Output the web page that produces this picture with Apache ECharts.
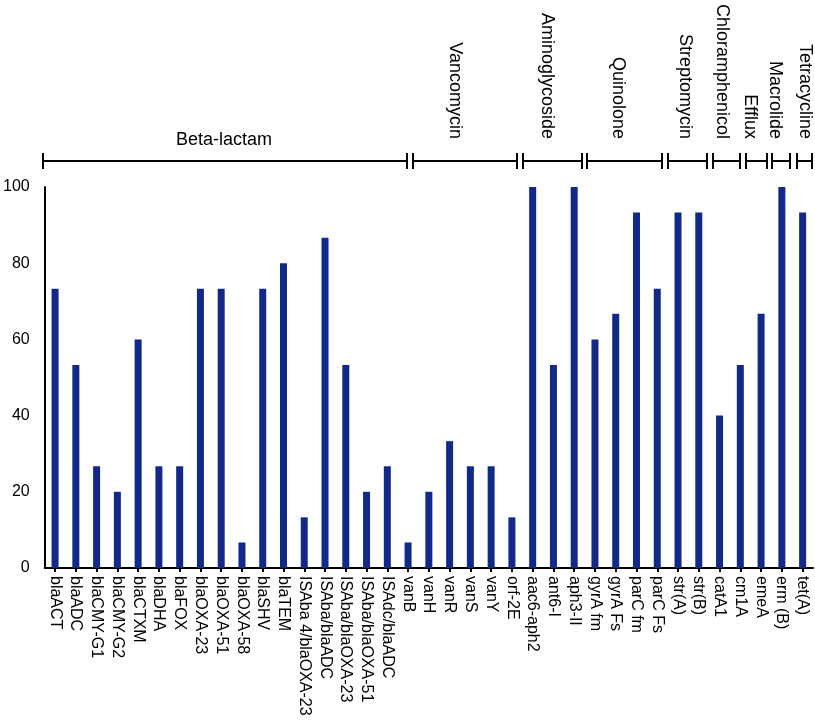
<!DOCTYPE html>
<html>
<head>
<meta charset="utf-8">
<script src="https://cdn.jsdelivr.net/npm/echarts@6/dist/echarts.min.js"></script>
<style>html,body{margin:0;padding:0;background:#fff}#c{width:815px;height:720px}</style>
</head>
<body>
<div id="c"></div>
<script>
const categories = ["blaACT","blaADC","blaCMY-G1","blaCMY-G2","blaCTXM","blaDHA","blaFOX","blaOXA-23","blaOXA-51","blaOXA-58","blaSHV","blaTEM","ISAba 4/blaOXA-23","ISAba/blaADC","ISAba/blaOXA-23","ISAba/blaOXA-51","ISAdc/blaADC","vanB","vanH","vanR","vanS","vanY","orf-2E","aac6-aph2","ant6-I","aph3-II","gyrA fm","gyrA Fs","parC fm","parC Fs","str(A)","str(B)","catA1","cm1A","emeA","erm (B)","tet(A)"];
const values = [73.3,53.3,26.7,20,60,26.7,26.7,73.3,73.3,6.7,73.3,80,13.3,86.7,53.3,20,26.7,6.7,20,33.3,26.7,26.7,13.3,100,53.3,100,60,66.7,93.3,73.3,93.3,93.3,40,53.3,66.7,100,93.3];
const yTicks = [0,20,40,60,80,100];
const groupNames = ["Beta-lactam","Vancomycin","Aminoglycoside","Quinolone","Streptomycin","Chloramphenicol","Efflux","Macrolide","Tetracycline"];

// layout of the group brackets (pixels)
const bracketY = 161, tickH = 8;
const segs = [[43,407],[413,517],[523,582],[587,662],[668,707],[713,740],[746,767],[772,790],[797,812]];
const labelX = [224,455,547,618,685,722,750,775,805];
const FONT = "'Liberation Sans', Arial, sans-serif";

const graphic = [];
segs.forEach(s => {
  graphic.push({type:'line', shape:{x1:s[0],y1:bracketY,x2:s[1],y2:bracketY}, style:{stroke:'#000',lineWidth:2}});
  graphic.push({type:'line', shape:{x1:s[0],y1:bracketY-tickH,x2:s[0],y2:bracketY+tickH}, style:{stroke:'#000',lineWidth:2}});
  graphic.push({type:'line', shape:{x1:s[1],y1:bracketY-tickH,x2:s[1],y2:bracketY+tickH}, style:{stroke:'#000',lineWidth:2}});
});
groupNames.forEach((n,i) => {
  if (i === 0) {
    graphic.push({type:'text', x:labelX[i], y:140, style:{text:n, font:'18px '+FONT, fill:'#000', align:'center', verticalAlign:'middle'}});
  } else {
    graphic.push({type:'text', x:labelX[i], y:139, rotation:-Math.PI/2, style:{text:n, font:'18px '+FONT, fill:'#000', align:'right', verticalAlign:'middle'}});
  }
});

const chart = echarts.init(document.getElementById('c'), null, {renderer:'canvas'});
chart.setOption({
  animation:false,
  backgroundColor:'#fff',
  grid:{left:41, right:2, top:187, bottom:152, containLabel:false},
  xAxis:{
    type:'category', data:categories,
    axisLine:{lineStyle:{color:'#000', width:2}},
    axisTick:{show:true, alignWithLabel:true, length:4, lineStyle:{color:'#000', width:2}},
    axisLabel:{rotate:-90, interval:0, margin:8, color:'#000', fontSize:16, fontFamily:FONT}
  },
  yAxis:{
    type:'value', min:yTicks[0], max:yTicks[yTicks.length-1], interval:20,
    splitLine:{show:false},
    axisLine:{show:true, lineStyle:{color:'#000', width:2}},
    axisTick:{show:false},
    axisLabel:{color:'#000', fontSize:16, fontFamily:FONT, margin:15}
  },
  series:[{type:'bar', data:values, barWidth:7, itemStyle:{color:'#12298a'}}],
  graphic: graphic
});
</script>
</body>
</html>
